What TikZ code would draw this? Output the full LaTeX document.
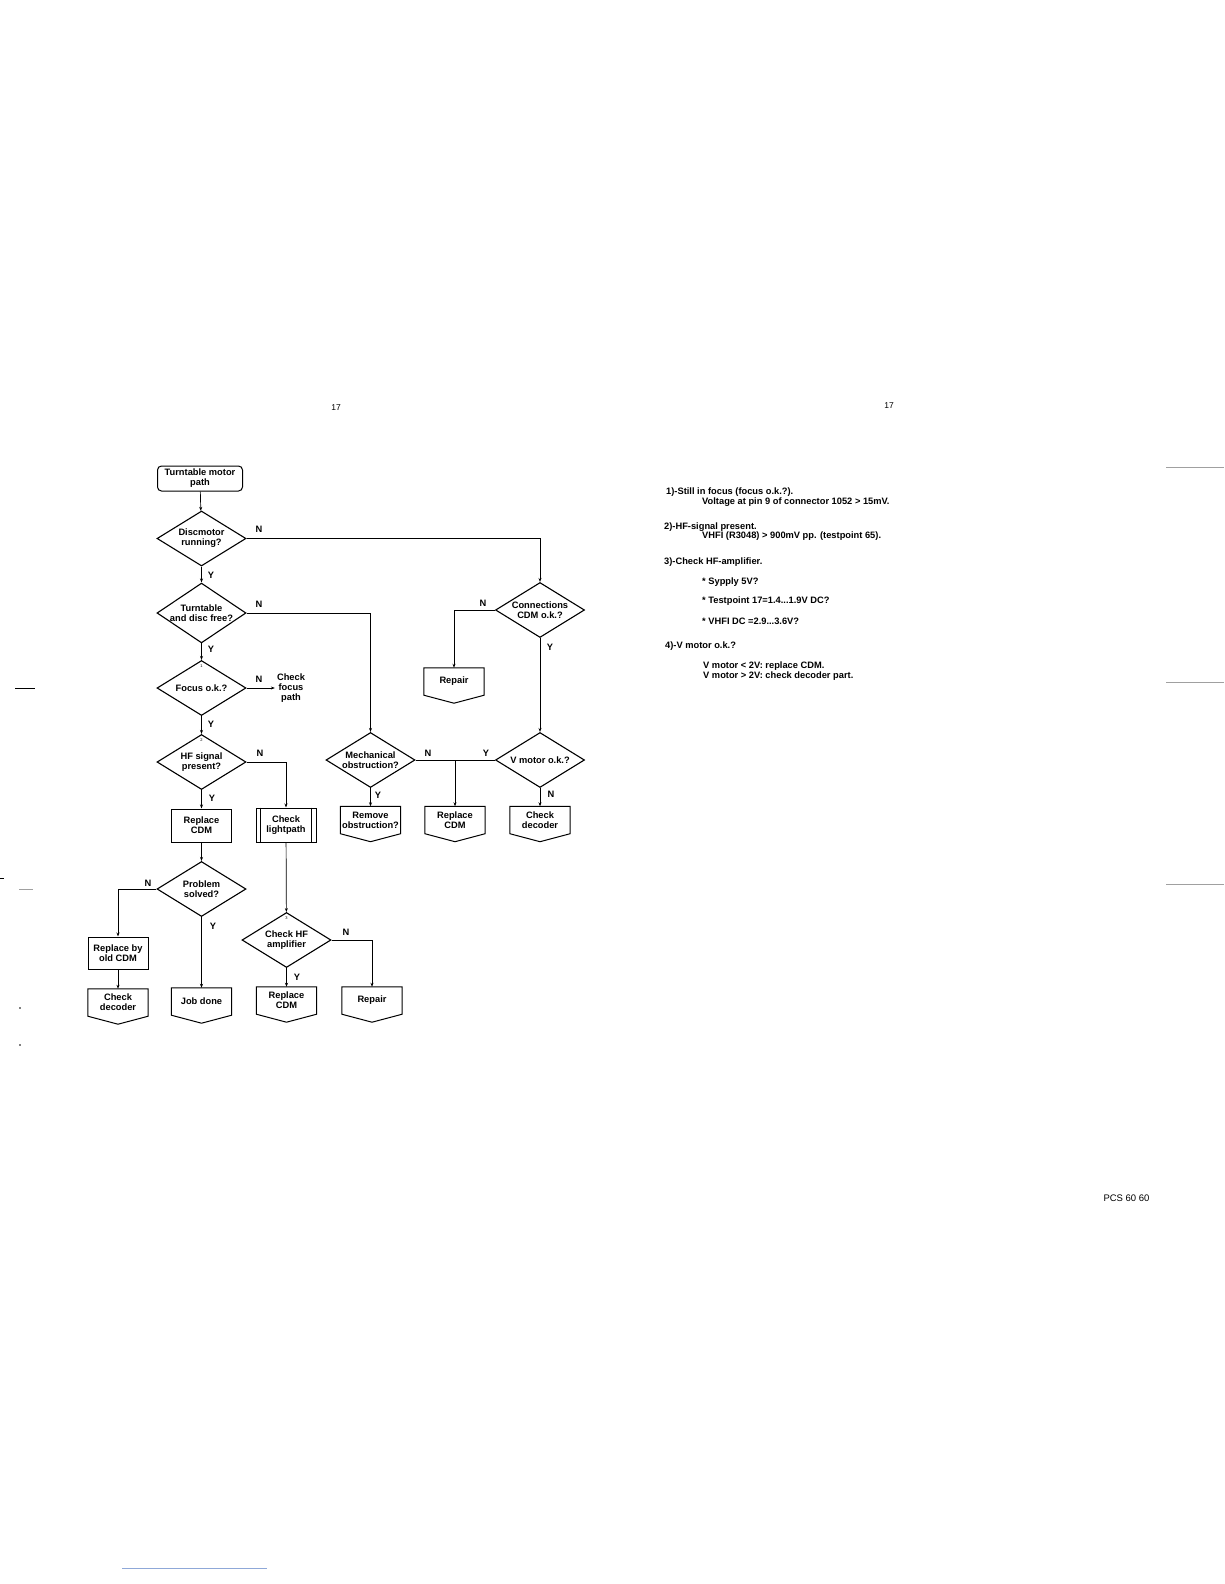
\documentclass[tikz,border=0pt]{standalone}
\usepackage{fontspec}
\setmainfont{Liberation Sans}
\usetikzlibrary{arrows.meta,positioning,calc,shapes.geometric}
\definecolor{ScanBlue}{HTML}{8FA8D8}
\definecolor{ScanGrey}{HTML}{A0A0A0}

\begin{document}
\begin{tikzpicture}[x=1pt,y=-1pt,>={Stealth[length=4pt,width=3pt]}]
    \tikzset{txt/.style={font=\fontsize{9.3}{10}\selectfont\bfseries,align=center},
      rbox/.style={txt,draw,line width=1pt,minimum width=60pt,inner sep=0pt},
      pent/.style={txt,minimum width=60pt,minimum height=27pt,inner sep=0pt},
      dia/.style={txt,draw,shape=diamond,line width=1.1pt,minimum width=89pt,
        minimum height=55pt,inner sep=-5pt},
      yn/.style={font=\fontsize{9.3}{10}\selectfont\bfseries,inner sep=0pt},
      note/.style={font=\fontsize{9.3}{10}\selectfont\bfseries,anchor=west,inner sep=0pt},
      num/.style={font=\fontsize{4}{4}\selectfont,inner sep=0pt},
      pg/.style={font=\fontsize{8.5}{10}\selectfont,inner sep=0pt},
      conn/.style={line width=0.7pt}}
    \fill[white] (0,0) rectangle (1224,1584);
    \useasboundingbox (0,0) rectangle (1224,1584);
    % main column
    \node[rbox,rounded corners=4pt,minimum width=85pt,minimum height=25pt] (start) at (200,478.5) {Turntable motor\\path};
    \node[dia] (disc) at (201.5,538.5) {Discmotor\\running?};
    \node[dia] (free) at (201.5,613) {Turntable\\and disc free?};
    \node[dia] (focus) at (201.5,688) {Focus o.k.?};
    \node[txt,inner sep=2pt] (focuspath) at (291,688) {Check\\focus\\path};
    \node[dia] (hf) at (201.5,762) {HF signal\\present?};
    \node[rbox,minimum height=33pt] (repcdma) at (201.5,825.5) {Replace\\CDM};
    \node[dia] (solved) at (201.5,889) {Problem\\solved?};
    \node[rbox,minimum height=32pt] (oldcdm) at (118,953) {Replace by\\old CDM};
    \node[pent] (decodera) at (118,1002.5) {Check\\decoder};
    \node[pent] (jobdone) at (201.5,1001.5) {Job done};
    % lightpath branch
    \node[rbox,minimum height=34pt] (light) at (286,825) {Check\\lightpath};
    \draw[line width=1pt] ([xshift=5pt]light.north west) -- ([xshift=5pt]light.south west)
      ([xshift=-5pt]light.north east) -- ([xshift=-5pt]light.south east);
    \node[dia] (hfamp) at (286.5,940) {Check HF\\amplifier};
    \node[pent] (repcdmb) at (286.5,1000.5) {Replace\\CDM};
    \node[pent] (repaira) at (372,1000.5) {Repair};
    % right part
    \node[dia] (mech) at (370.5,760) {Mechanical\\obstruction?};
    \node[pent] (remove) at (370.5,820) {Remove\\obstruction?};
    \node[pent] (repcdmc) at (455,820) {Replace\\CDM};
    \node[dia] (cdm) at (540,610) {Connections\\CDM o.k.?};
    \node[pent] (repairb) at (454,681.5) {Repair};
    \node[dia] (vmotor) at (540,760) {V motor o.k.?};
    \node[pent] (decoderb) at (540,820) {Check\\decoder};
    \foreach \p in {decodera,jobdone,repcdmb,repaira,remove,repcdmc,repairb,decoderb}
      \draw[line width=1pt] (\p.north west) -- (\p.north east) -- (\p.south east)
        -- ([yshift=-8pt]\p.south) -- (\p.south west) -- cycle;
    % connectors
    \draw[conn,->] (start) -- (disc);
    \draw[conn,->] (disc) -- (free);
    \draw[conn,->] (disc.east) -| (cdm.north);
    \draw[conn,->] (free) -- (focus);
    \draw[conn,->] (free.east) -| (mech.north);
    \draw[conn,->] (focus) -- (hf);
    \draw[conn,->] (focus.east) -- (focuspath.west);
    \draw[conn,->] (hf) -- (repcdma);
    \draw[conn,->] (hf.east) -| (light.north);
    \draw[conn,->] (repcdma) -- (solved);
    \draw[conn,->] (solved.west) -| (oldcdm.north);
    \draw[conn,->] (solved) -- (jobdone);
    \draw[conn,->] (oldcdm) -- (decodera);
    \draw[conn,->] (light) -- (hfamp);
    \draw[conn,->] (hfamp) -- (repcdmb);
    \draw[conn,->] (hfamp.east) -| (repaira.north);
    \draw[conn,->] (mech) -- (remove);
    \draw[conn] (mech.east) -- (vmotor.west);
    \coordinate (split) at (repcdmc.north |- mech.east);
    \draw[conn,->] (split) -- (repcdmc.north);
    \draw[conn,->] (cdm.west) -| (repairb.north);
    \draw[conn,->] (cdm) -- (vmotor);
    \draw[conn,->] (vmotor) -- (decoderb);
    % Y/N marks
    \node[yn] (ndisc) at (259,529) {N};
    \node[yn] (ydisc) at (211,575) {Y};
    \node[yn] (nfree) at (259,604) {N};
    \node[yn] (yfree) at (211,649) {Y};
    \node[yn] (nfocus) at (259,679) {N};
    \node[yn] (yfocus) at (211,724) {Y};
    \node[yn] (nhf) at (260,753) {N};
    \node[yn] (yhf) at (212,798) {Y};
    \node[yn] (nsolved) at (148,883) {N};
    \node[yn] (ysolved) at (213,926) {Y};
    \node[yn] (nhfamp) at (346,932) {N};
    \node[yn] (yhfamp) at (297,977) {Y};
    \node[yn] (nmech) at (428,753) {N};
    \node[yn] (ymech) at (378,795) {Y};
    \node[yn] (yvmotor) at (486,753) {Y};
    \node[yn] (nvmotor) at (551,794) {N};
    \node[yn] (ncdm) at (483,603) {N};
    \node[yn] (ycdm) at (550,647) {Y};
    \node[num] (one) at (201.5,666) {1};
    \node[num] (two) at (201.5,740) {2};
    \node[num] (three) at (286.5,918) {3};
    % notes
    \node[note] (t1) at (666,492) {1)-Still in focus (focus o.k.?).};
    \node[note] (t1a) at (702,502) {Voltage at pin 9 of connector 1052 > 15mV.};
    \node[note] (t2) at (664,527) {2)-HF-signal present.};
    \node[note] (t2a) at (702,536) {VHFI (R3048) > 900mV pp. (testpoint 65).};
    \node[note] (t3) at (664,562) {3)-Check HF-amplifier.};
    \node[note] (t3a) at (702,582) {* Sypply 5V?};
    \node[note] (t3b) at (702,601) {* Testpoint 17=1.4...1.9V DC?};
    \node[note] (t3c) at (702,621) {* VHFI DC =2.9...3.6V?};
    \node[note] (t4) at (665,646) {4)-V motor o.k.?};
    \node[note] (t4a) at (703,666) {V motor < 2V: replace CDM.};
    \node[note] (t4b) at (703,676) {V motor > 2V: check decoder part.};
    % page marks
    \node[pg] (pga) at (336,408) {17};
    \node[pg] (pgb) at (889,406) {17};
    \node[pg,font=\fontsize{9.5}{10}\selectfont] (pcs) at (1126.5,1198) {PCS 60 60};
    \draw[line width=1pt] (15,688) -- (35,688);
    \draw[line width=0.8pt] (0,878) -- (4,878);
    \draw[ScanGrey,line width=0.6pt] (19,889) -- (33,889);
    \fill (20,1008) circle (0.8);
    \fill (20,1045) circle (0.8);
    \draw[ScanGrey,line width=0.5pt] (1166,467) -- (1224,467);
    \draw[ScanGrey,line width=0.6pt] (1166,682) -- (1224,682);
    \draw[ScanGrey,line width=0.6pt] (1166,884) -- (1224,884);
    \draw[ScanBlue,line width=0.8pt] (122,1568) -- (267,1568);
  \end{tikzpicture}
\end{document}
